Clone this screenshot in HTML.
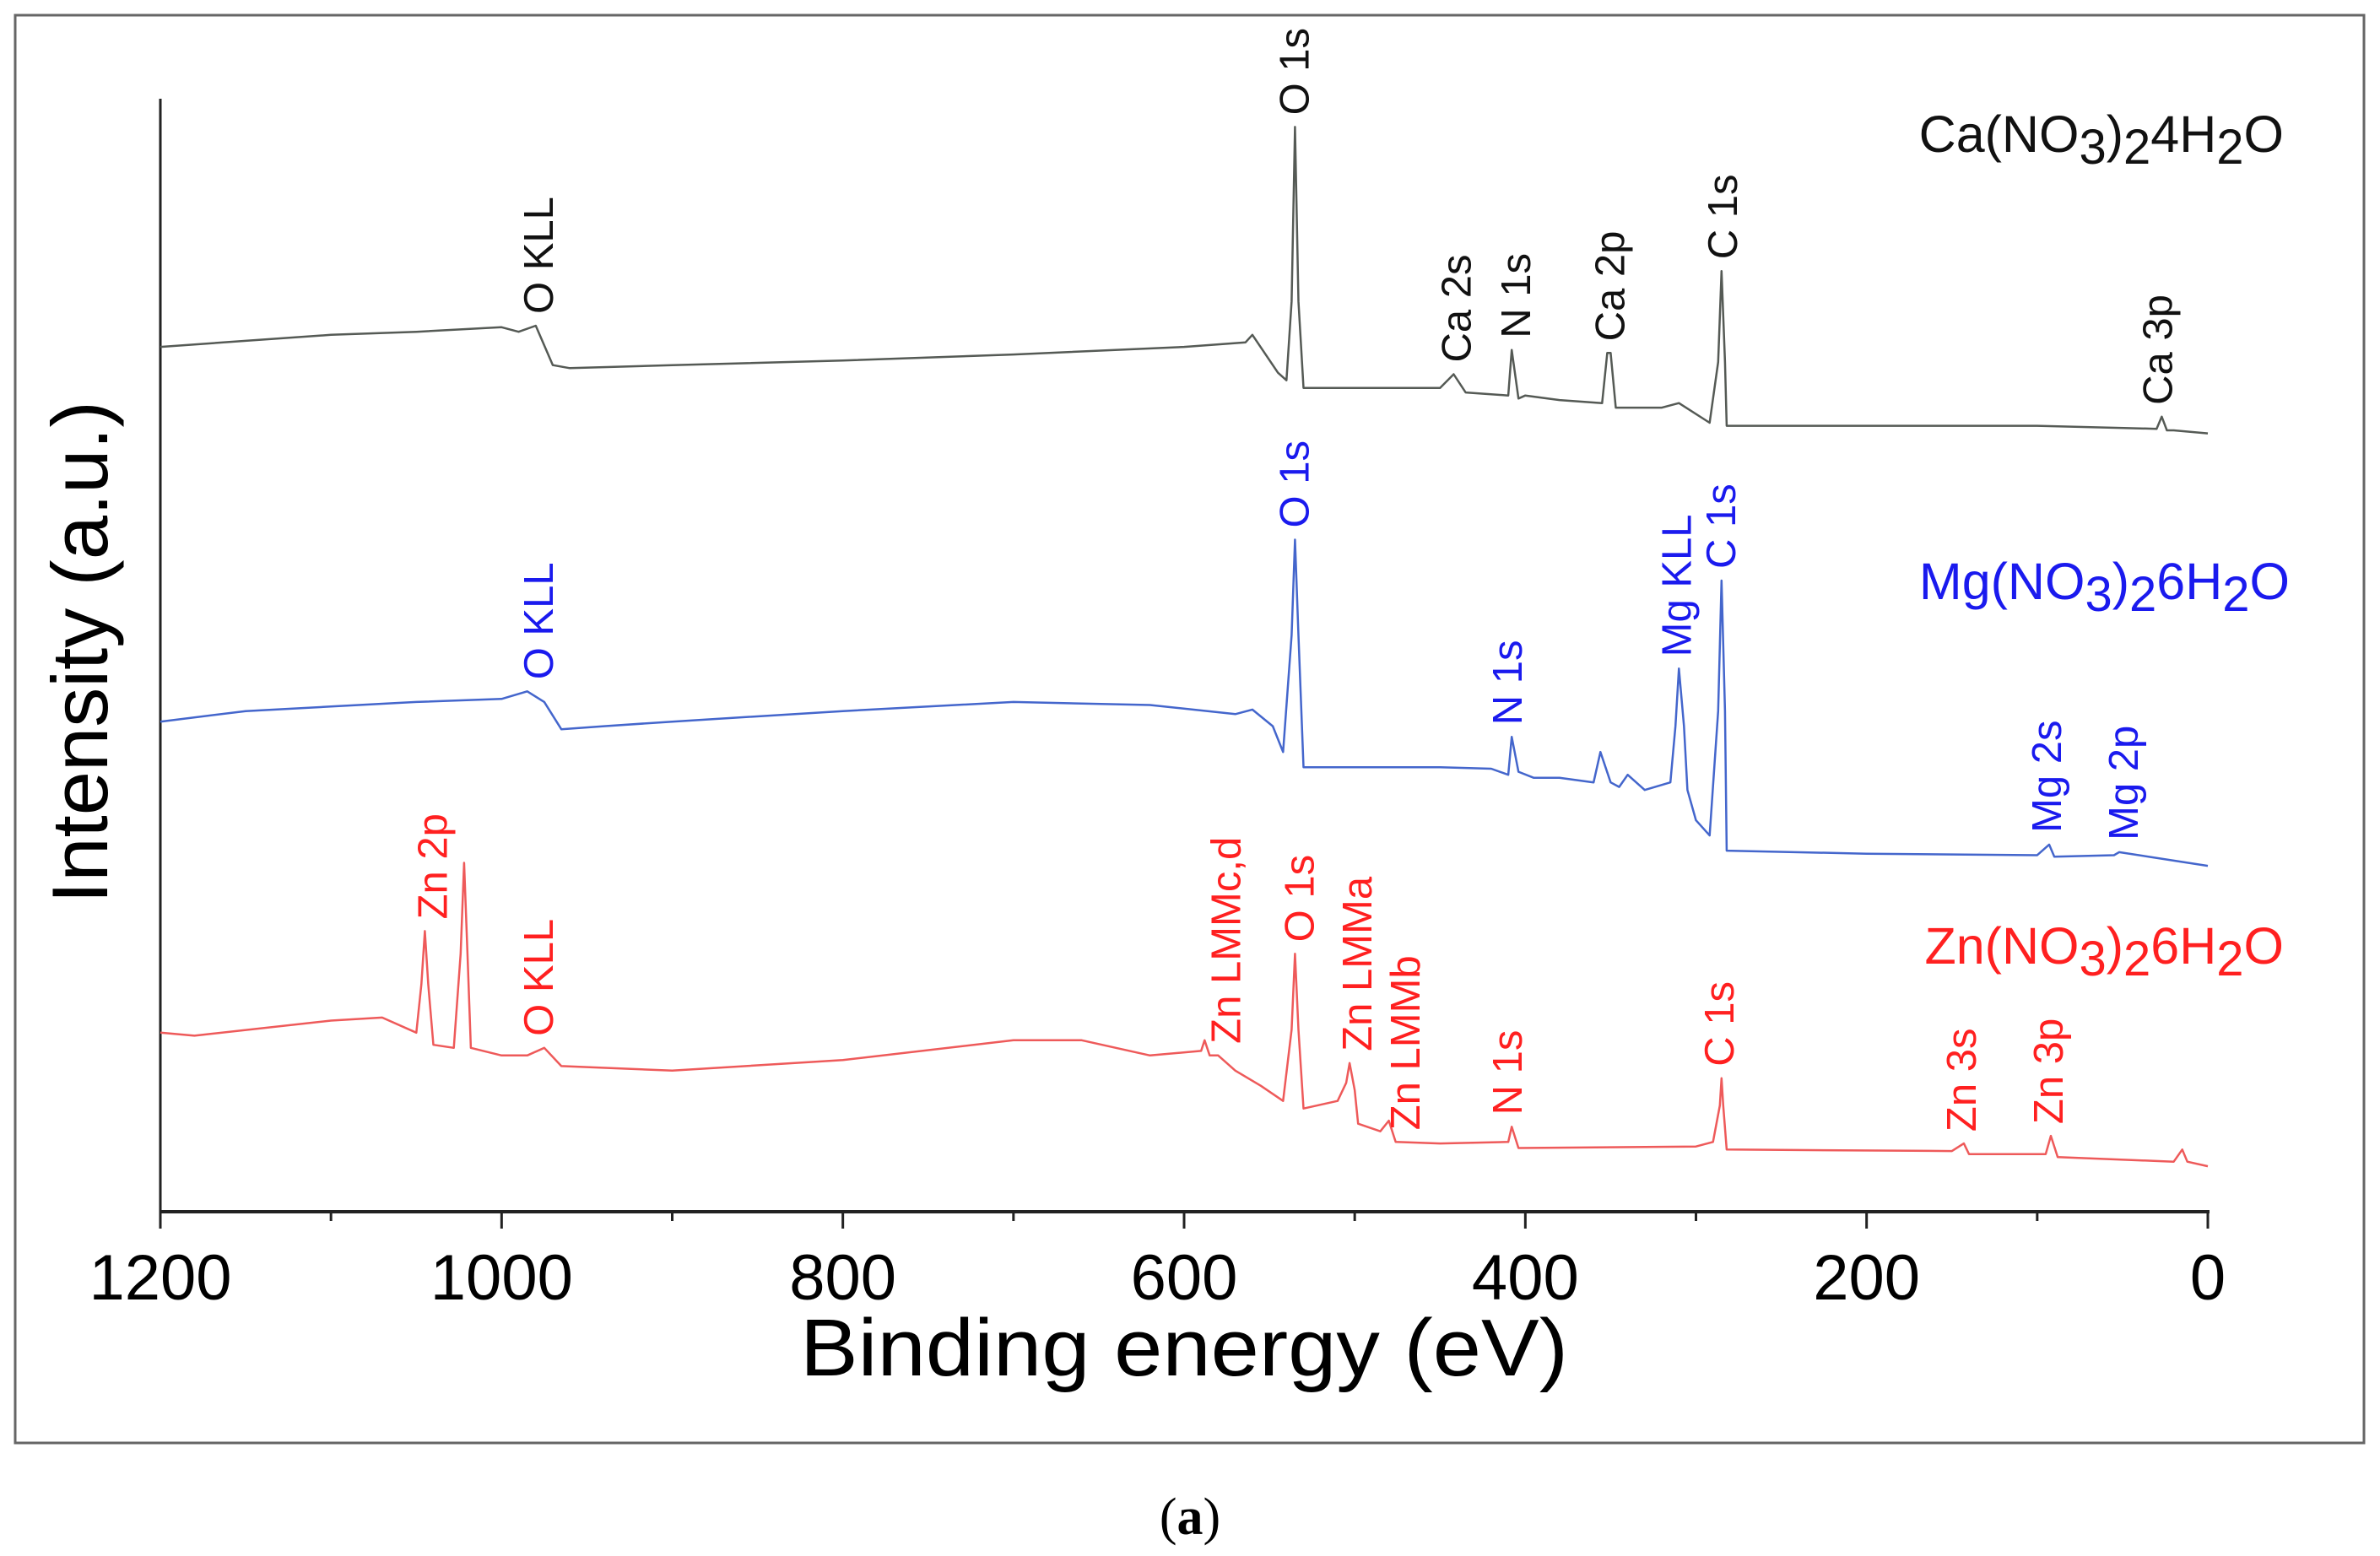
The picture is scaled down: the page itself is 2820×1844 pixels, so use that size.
<!DOCTYPE html>
<html><head><meta charset="utf-8">
<style>
html,body{margin:0;padding:0;background:#fff;overflow:hidden;width:2820px;height:1844px;}
svg{display:block;font-family:"Liberation Sans",Arial,sans-serif;}
</style></head>
<body>
<svg id="chart" width="2820" height="1844" viewBox="0 0 2820 1844">
<rect x="18" y="18" width="2783" height="1692" fill="none" stroke="#666" stroke-width="3"/>
<g id="axes"></g>
<g id="series"></g>
<g id="labels"></g>
<text x="102" y="773" font-size="94" text-anchor="middle" transform="rotate(-90 102 773)" dominant-baseline="middle">Intensity (a.u.)</text>
<text x="1403" y="1630" font-size="96" text-anchor="middle" textLength="910" lengthAdjust="spacingAndGlyphs">Binding energy (eV)</text>
<text x="1410" y="1818" font-size="62" text-anchor="middle" font-family="Liberation Serif, serif">(<tspan font-weight="bold">a</tspan>)</text>
<text x="2706" y="180" font-size="61" text-anchor="end" fill="#111">Ca(NO<tspan baseline-shift="-14" font-size="58">3</tspan>)<tspan baseline-shift="-14" font-size="58">2</tspan>4H<tspan baseline-shift="-14" font-size="58">2</tspan>O</text>
<text x="2713" y="710" font-size="61" text-anchor="end" fill="#1a1aee">Mg(NO<tspan baseline-shift="-14" font-size="58">3</tspan>)<tspan baseline-shift="-14" font-size="58">2</tspan>6H<tspan baseline-shift="-14" font-size="58">2</tspan>O</text>
<text x="2706" y="1142" font-size="61" text-anchor="end" fill="#ff2020">Zn(NO<tspan baseline-shift="-14" font-size="58">3</tspan>)<tspan baseline-shift="-14" font-size="58">2</tspan>6H<tspan baseline-shift="-14" font-size="58">2</tspan>O</text>
</svg>
<script>
// x-axis ticks
const xTicks = [1200, 1000, 800, 600, 400, 200, 0];
const xMinorTicks = [1100, 900, 700, 500, 300, 100];
// Ca series: energy and intensity (a.u.)
const caEnergy = [1200,1150,1100,1050,1000,990,980,970,960,900,800,700,600,564,560,545,540,537,535,533,530,450,442,435,410,408,404,400,380,355,352,350,347,320,310,292,287,285,283,282,100,30,27,24,20,0];
const caInt    = [570,574,578,580,583,580,584,558,556,558,561,565,570,573,578,553,548,600,715,600,543,543,552,540,538,568,536,538,535,533,566,566,530,530,533,520,560,620,560,518,518,516,524,515,515,513];
// Mg series
const mgEnergy = [1200,1150,1100,1050,1000,985,975,965,940,900,800,700,620,570,560,548,542,537,535,533,530,450,420,410,408,404,395,380,360,356,350,345,340,330,315,312,310,307,305,300,292,287,285,283,282,200,100,93,90,55,52,0];
const mgInt    = [323,330,333,336,338,343,336,318,320,323,330,336,334,328,331,320,303,380,443,380,293,293,292,288,313,290,286,286,283,303,283,280,288,278,283,320,358,320,278,258,248,330,416,330,238,236,235,242,234,235,237,228];
// Zn series
const znEnergy = [1200,1180,1100,1070,1050,1047,1045,1043,1040,1028,1024,1022,1020,1018,1000,985,975,965,900,800,700,660,620,590,588,585,580,570,555,542,537,535,533,530,510,505,503,500,498,485,480,476,450,410,408,404,300,290,286,285,284,282,150,143,140,95,92,88,20,15,12,0];
const znInt    = [118,116,126,128,118,150,185,150,110,108,170,230,170,108,103,103,108,96,93,100,113,113,103,106,113,103,103,93,83,73,120,170,120,68,73,85,98,80,58,53,60,46,45,46,56,42,43,46,70,88,70,41,40,45,38,38,50,36,33,41,33,30];
// peak labels
const caLabels = ["O 1s","O KLL","Ca 2s","N 1s","Ca 2p","C 1s","Ca 3p"];
const caLabelE = [535,978,440,405,350,284,29];
const mgLabels = ["O 1s","O KLL","N 1s","Mg KLL","C 1s","Mg 2s","Mg 2p"];
const mgLabelE = [535,978,410,311,285,94,49];
const znLabels = ["Zn 2p","O KLL","Zn LMMc,d","O 1s","Zn LMMa","Zn LMMb","N 1s","C 1s","Zn 3s","Zn 3p"];
const znLabelE = [1040,978,575,532,498,470,410,286,144,93];

const X0=190, X1=2616, Y0=1436;
const xScale = e => X0 + (1200 - e) / 1200 * (X1 - X0);
const yScale = v => Y0 - v * 1.798;
const NS="http://www.w3.org/2000/svg";
function mk(tag, attrs, parent){const el=document.createElementNS(NS,tag);for(const k in attrs)el.setAttribute(k,attrs[k]);parent.appendChild(el);return el;}

const axes=document.getElementById('axes');
let a=mk('line',{x1:X0,y1:117,x2:X0,y2:Y0,stroke:'#222','stroke-width':3},axes);


a=mk('line',{x1:X0-1,y1:Y0,x2:X1+2,y2:Y0,stroke:'#222','stroke-width':4},axes);


xTicks.forEach(t=>{
  const x=xScale(t);
  const tk=mk('line',{x1:x,y1:Y0,x2:x,y2:Y0+20,stroke:'#222','stroke-width':3},axes);
  
  
  const tl=mk('text',{x:x,y:Y0+104,'font-size':76,'text-anchor':'middle'},axes);
  tl.textContent=t;
  
  
});
xMinorTicks.forEach(t=>{
  const x=xScale(t);
  const tk=mk('line',{x1:x,y1:Y0,x2:x,y2:Y0+11,stroke:'#222','stroke-width':3},axes);
  
  
});

const sg=document.getElementById('series');
function drawSeries(E,I,color,name){
  const d=E.map((e,i)=>(i?'L':'M')+xScale(e).toFixed(1)+' '+yScale(I[i]).toFixed(1)).join(' ');
  const p=mk('path',{d:d,fill:'none',stroke:color,'stroke-width':2.5,'stroke-linejoin':'round'},sg);
  
  
}
drawSeries(caEnergy,caInt,'#555a55','ca-nitrate-spectrum');
drawSeries(mgEnergy,mgInt,'#4466cc','mg-nitrate-spectrum');
drawSeries(znEnergy,znInt,'#ee5a5a','zn-nitrate-spectrum');

function interp(E0,I0,e){
  for(let k=0;k<E0.length-1;k++){
    if(E0[k]>=e && E0[k+1]<=e){const f=(E0[k]-e)/(E0[k]-E0[k+1]||1);return I0[k]+(I0[k+1]-I0[k])*f;}
  }
  return I0[I0.length-1];
}
const lg=document.getElementById('labels');
function drawLabels(L,E,E0,I0,color,prefix){
  L.forEach((t,i)=>{
    let maxI=interp(E0,I0,E[i]);
    for(let k=0;k<E0.length;k++){ if(Math.abs(E0[k]-E[i])<=8) maxI=Math.max(maxI,I0[k]); }
    const x=xScale(E[i])+16, y=yScale(maxI)-14;
    const tx=mk('text',{x:x,y:y,'font-size':49,fill:color,transform:`rotate(-90 ${x} ${y})`},lg);
    tx.textContent=t;
    
    
  });
}
drawLabels(caLabels,caLabelE,caEnergy,caInt,'#111','ca');
drawLabels(mgLabels,mgLabelE,mgEnergy,mgInt,'#1a1aee','mg');
drawLabels(znLabels,znLabelE,znEnergy,znInt,'#ff2020','zn');
</script>
</body></html>
